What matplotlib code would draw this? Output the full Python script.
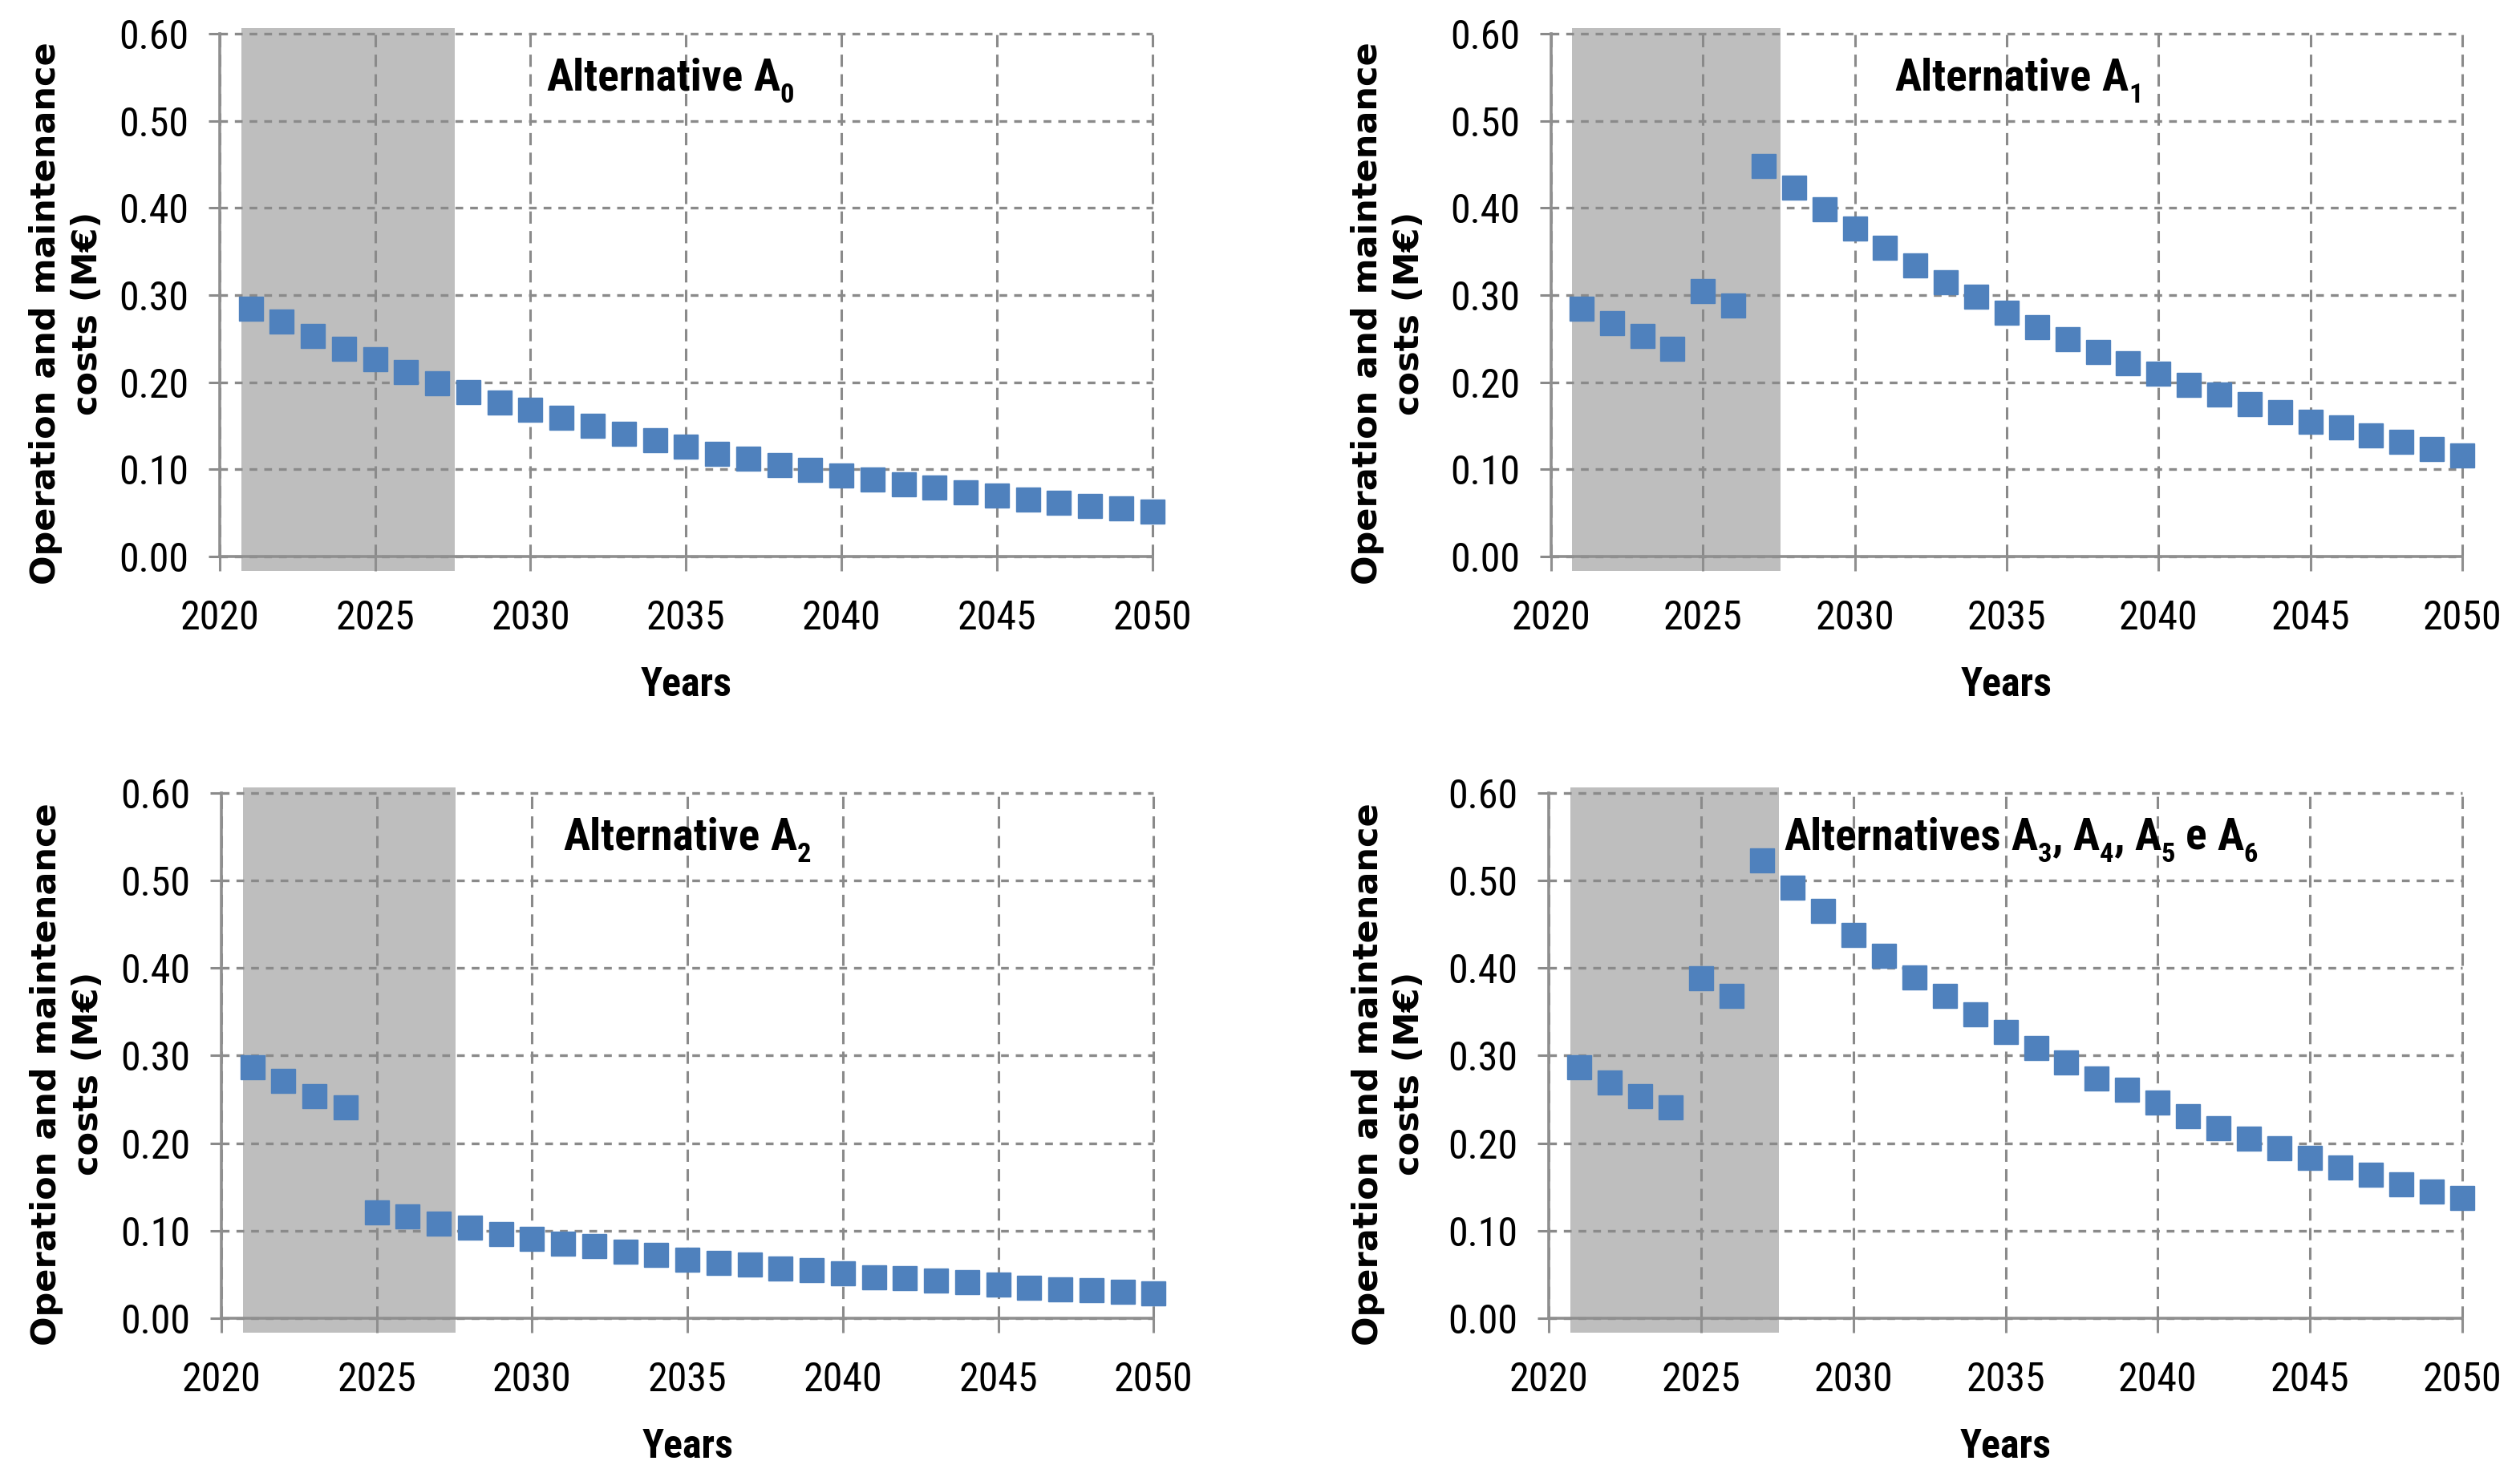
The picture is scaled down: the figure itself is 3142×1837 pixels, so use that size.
import matplotlib
matplotlib.use("Agg")
import matplotlib.pyplot as plt
from matplotlib import font_manager as fm
from matplotlib.transforms import ScaledTranslation

# ---------------- data ----------------
years = list(range(2021, 2051))

cost_a0 = [0.284, 0.270, 0.253, 0.238, 0.226, 0.212, 0.199, 0.189, 0.177, 0.168,
           0.159, 0.150, 0.141, 0.133, 0.126, 0.118, 0.112, 0.105, 0.099, 0.093,
           0.088, 0.083, 0.079, 0.074, 0.070, 0.065, 0.062, 0.058, 0.055, 0.052]
cost_a1 = [0.284, 0.268, 0.253, 0.238, 0.305, 0.288, 0.448, 0.423, 0.398, 0.376,
           0.354, 0.334, 0.315, 0.298, 0.280, 0.263, 0.249, 0.235, 0.222, 0.210,
           0.197, 0.186, 0.175, 0.166, 0.155, 0.148, 0.139, 0.132, 0.123, 0.116]
cost_a2 = [0.287, 0.271, 0.254, 0.241, 0.121, 0.116, 0.108, 0.103, 0.096, 0.091,
           0.085, 0.082, 0.076, 0.072, 0.067, 0.063, 0.061, 0.057, 0.055, 0.051,
           0.047, 0.046, 0.043, 0.041, 0.038, 0.035, 0.033, 0.032, 0.030, 0.028]
cost_a3 = [0.287, 0.269, 0.254, 0.241, 0.388, 0.368, 0.523, 0.492, 0.465, 0.438,
           0.414, 0.389, 0.368, 0.347, 0.327, 0.309, 0.292, 0.274, 0.261, 0.246,
           0.231, 0.217, 0.205, 0.194, 0.183, 0.172, 0.164, 0.153, 0.145, 0.137]

# "_x" marks a subscript character
titles = ["Alternative A_0", "Alternative A_1", "Alternative A_2",
          "Alternatives A_3, A_4, A_5 e A_6"]
series = [cost_a0, cost_a1, cost_a2, cost_a3]
title_x = [2034.5, 2035.4, 2035.0, 2035.5]

xticks = [2020, 2025, 2030, 2035, 2040, 2045, 2050]
yticks = [0.0, 0.1, 0.2, 0.3, 0.4, 0.5, 0.6]
ytick_labels = ["0.00", "0.10", "0.20", "0.30", "0.40", "0.50", "0.60"]
ylabel_text = "Operation and maintenance\ncosts (M€)"
xlabel_text = "Years"

shade_start, shade_end = 2020.7, 2027.55

# ---------------- fonts ----------------
def _w(f):
    w = f.weight
    if isinstance(w, str):
        w = fm.weight_dict.get(w, 400)
    return w

def find_narrow(bold):
    prefs = ['Liberation Sans Narrow', 'Roboto Condensed', 'Open Sans Condensed',
             'Noto Sans Condensed', 'Noto Sans SemiCondensed', 'Noto Sans',
             'Open Sans', 'Roboto', 'DejaVu Sans Condensed', 'DejaVu Sans']
    stretch_rank = {'condensed': 0, 'semi-condensed': 1, 'extra-condensed': 2}
    best = None
    for pi, fam in enumerate(prefs):
        for f in fm.fontManager.ttflist:
            if f.name != fam or f.style != 'normal':
                continue
            cond = ('Narrow' in f.name or 'Condensed' in f.name
                    or f.stretch in stretch_rank or
                    (isinstance(f.stretch, int) and f.stretch < 100))
            if not cond:
                continue
            w = _w(f)
            if bold and not (650 <= w <= 750):
                continue
            if (not bold) and not (380 <= w <= 420):
                continue
            sr = stretch_rank.get(f.stretch, 0)
            key = (pi, sr)
            if best is None or key < best[0]:
                best = (key, f.fname)
        if best is not None:
            return best[1]
    return None

reg_file = find_narrow(False)
bold_file = find_narrow(True)

def fp(bold, size):
    f = bold_file if bold else reg_file
    if f:
        return fm.FontProperties(fname=f, size=size)
    return fm.FontProperties(family='Liberation Sans',
                             weight='bold' if bold else 'normal', size=size * 0.9)

# ---------------- figure ----------------
positions = [
    [0.0872, 0.6222, 0.3700, 0.3550],
    [0.6155, 0.6222, 0.3616, 0.3550],
    [0.0878, 0.1051, 0.3700, 0.3566],
    [0.6146, 0.1051, 0.3625, 0.3566],
]
ylabel_x = [-0.124, -0.137, -0.125, -0.134]

fig = plt.figure(figsize=(31.42, 18.37), dpi=100)
fig.patch.set_facecolor('white')
renderer = fig.canvas.get_renderer()

BLUE = '#4F81BD'
GRID = '#8a8a8a'
SPINE = '#8f8f8f'


def text_width(s, prop):
    t = fig.text(0, 0, s, fontproperties=prop)
    w = t.get_window_extent(renderer).width
    t.remove()
    return w


def draw_rich(ax, x, y, markup, size):
    main = fp(True, size)
    sub = fp(True, size * 0.62)
    space_w = text_width("x x", main) - text_width("xx", main)
    pieces = []
    buf = ""
    i = 0
    while i < len(markup):
        c = markup[i]
        if c == '_':
            if buf:
                pieces.append((buf, False)); buf = ""
            pieces.append((markup[i + 1], True)); i += 2; continue
        if c == ' ':
            if buf:
                pieces.append((buf, False)); buf = ""
            pieces.append((None, 'space')); i += 1; continue
        buf += c
        i += 1
    if buf:
        pieces.append((buf, False))
    widths = []
    for s, kind in pieces:
        if s is None:
            widths.append(space_w)
        else:
            widths.append(text_width(s, sub if kind is True else main))
    total = sum(widths)
    xoff = -total / 2.0
    for (s, kind), w in zip(pieces, widths):
        if s is not None:
            dy = -size * 0.28 if kind is True else 0.0
            tr = ax.transData + ScaledTranslation(xoff / fig.dpi, dy / 72.0,
                                                  fig.dpi_scale_trans)
            ax.text(x, y, s, transform=tr, ha='left', va='baseline',
                    fontproperties=sub if kind is True else main, zorder=4)
        xoff += w


for i, pos in enumerate(positions):
    ax = fig.add_axes(pos)
    ax.set_xlim(2020, 2050)
    ax.set_ylim(0, 0.6)
    ax.axvspan(shade_start, shade_end, ymin=-0.028, ymax=1.01,
               color='#bebebe', zorder=0, clip_on=False, lw=0)
    ax.set_axisbelow(True)
    ax.yaxis.grid(True, color=GRID, linestyle=(0, (2.9, 2.6)), linewidth=2.4)
    ax.xaxis.grid(True, color=GRID, linestyle=(0, (5.0, 3.0)), linewidth=2.2)
    ax.plot(years, series[i], linestyle='none', marker='s', markersize=22,
            color=BLUE, markeredgecolor=BLUE, zorder=3, clip_on=False)
    for s in ['top', 'right']:
        ax.spines[s].set_visible(False)
    for s in ['left', 'bottom']:
        ax.spines[s].set_color(SPINE)
        ax.spines[s].set_linewidth(2.6)
    ax.set_xticks(xticks)
    ax.set_xticklabels([str(x) for x in xticks])
    ax.set_yticks(yticks)
    ax.set_yticklabels(ytick_labels)
    ax.tick_params(axis='x', direction='out', length=13, width=2.2, color=SPINE, pad=25)
    ax.tick_params(axis='y', direction='out', length=10, width=2.2, color=GRID, pad=18)
    for gl in ax.get_xgridlines() + ax.get_ygridlines():
        gl.set_clip_on(False)
    tick_fp = fp(False, 36)
    for lab in ax.get_xticklabels() + ax.get_yticklabels():
        lab.set_fontproperties(tick_fp)
    ax.set_xlabel(xlabel_text, fontproperties=fp(True, 36), labelpad=26)
    ax.set_ylabel(ylabel_text, fontsize=31, fontweight='bold',
                  family='DejaVu Sans', linespacing=1.3)
    ax.yaxis.set_label_coords(ylabel_x[i], 0.465)
    draw_rich(ax, title_x[i], 0.535, titles[i], 40)

fig.savefig("out.png", dpi=100, facecolor='white')
